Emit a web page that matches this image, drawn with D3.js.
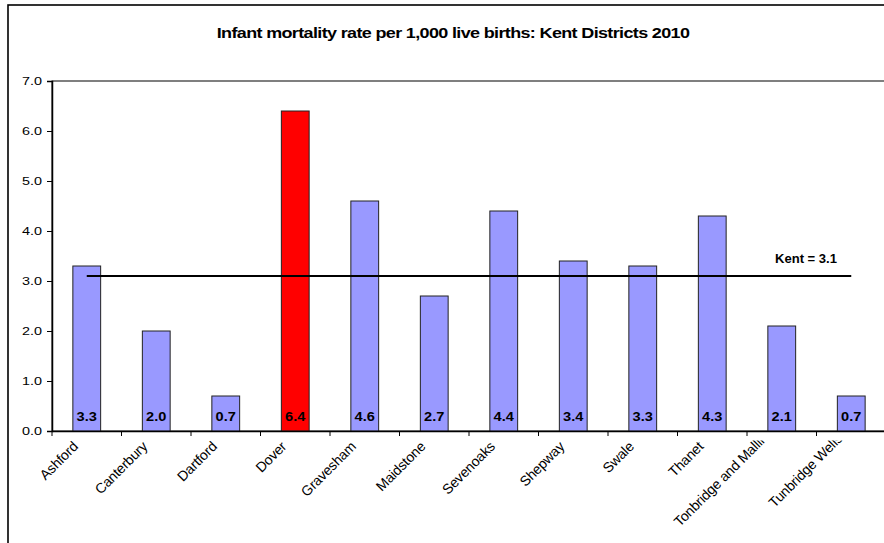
<!DOCTYPE html>
<html><head><meta charset="utf-8">
<script src="https://cdn.jsdelivr.net/npm/d3@7"></script>
<style>body{margin:0;background:#fff;} svg{display:block;font-family:"Liberation Sans",Arial,sans-serif;}</style>
</head><body><svg id="c" width="884" height="543"></svg>
<script>
const districts = ["Ashford","Canterbury","Dartford","Dover","Gravesham","Maidstone","Sevenoaks","Shepway","Swale","Thanet","Tonbridge and Malling","Tunbridge Wells"];
const rates = [3.3,2.0,0.7,6.4,4.6,2.7,4.4,3.4,3.3,4.3,2.1,0.7];
const highlight = ["Dover"];
const kentRate = 3.1;
const yTicks = [0,1,2,3,4,5,6,7];
const title = "Infant mortality rate per 1,000 live births: Kent Districts 2010";

const svg = d3.select("#c");
const L = 52, T = 81, R = 886, B = 431;
const x = d3.scaleBand().domain(districts).range([L, R]).paddingInner(0.6).paddingOuter(0.3);
const xb = d3.scaleBand().domain(districts).range([L, R]);
const y = d3.scaleLinear().domain([0, 7]).range([B, T]);

function stretch(sel, k) {
  sel.each(function() {
    const w = this.getComputedTextLength();
    d3.select(this).attr("textLength", w * k).attr("lengthAdjust", "spacingAndGlyphs");
  });
}

// outer border
svg.append("rect").attr("x", 8).attr("y", 5).attr("width", 900).attr("height", 600)
  .attr("fill", "#fff").attr("stroke", "#000").attr("stroke-width", 1.6);

const tt = svg.append("text").attr("text-anchor", "middle")
  .attr("font-size", 14).attr("font-weight", "bold").attr("letter-spacing", -0.5).text(title);
const tw = tt.node().getComputedTextLength();
tt.attr("transform", `translate(453,37.5) scale(${473 / tw},1)`);

// plot area border
svg.append("rect").attr("x", L).attr("y", T).attr("width", R - L).attr("height", B - T)
  .attr("fill", "none").attr("stroke", "#000").attr("stroke-width", 1);

// bars
svg.append("g").selectAll("rect").data(districts).join("rect")
  .attr("x", d => x(d)).attr("width", x.bandwidth())
  .attr("y", (d, i) => y(rates[i])).attr("height", (d, i) => y(0) - y(rates[i]))
  .attr("fill", d => highlight.includes(d) ? "#FF0000" : "#9999FF")
  .attr("stroke", "#222").attr("stroke-width", 1);

// value labels
svg.append("g").selectAll("text").data(districts).join("text")
  .attr("x", d => x(d) + x.bandwidth() / 2).attr("y", 421)
  .attr("text-anchor", "middle").attr("font-size", 13).attr("font-weight", "bold")
  .text((d, i) => rates[i].toFixed(1))
  .call(stretch, 1.12);

// y axis
const ya = svg.append("g").attr("transform", `translate(${L},0)`)
  .call(d3.axisLeft(y).tickValues(yTicks).tickFormat(d3.format(".1f")).tickSize(5).tickPadding(5));
ya.select(".domain").attr("stroke", "#000").attr("stroke-width", 1.5);
ya.selectAll(".tick line").attr("stroke", "#000");
ya.selectAll("text").attr("font-size", 11.5).attr("font-family", "Liberation Sans, Arial, sans-serif")
  .attr("fill", "#000").call(stretch, 1.25);

// x axis
const xa = svg.append("g").attr("transform", `translate(0,${B})`)
  .call(d3.axisBottom(xb).tickSize(0).tickFormat(""));
xa.select(".domain").attr("stroke", "#000").attr("stroke-width", 1.5);
xa.selectAll(".tick").remove();
const bounds = districts.map(d => xb(d)).concat([xb(districts[districts.length - 1]) + xb.bandwidth()]);
svg.append("g").selectAll("line").data(bounds).join("line")
  .attr("x1", d => d).attr("x2", d => d)
  .attr("y1", B).attr("y2", B + 5).attr("stroke", "#000");

// x labels (long ones get pushed up and cut at the axis label band)
svg.append("clipPath").attr("id", "lc").append("rect").attr("x", 0).attr("y", 440.5).attr("width", 884).attr("height", 200);
const lg = svg.append("g").attr("clip-path", "url(#lc)");
lg.selectAll("text").data(districts).join("text")
  .attr("text-anchor", "end").attr("font-size", 14).attr("letter-spacing", -0.2)
  .text(d => d)
  .each(function(d) {
    const w = this.getComputedTextLength();
    const up = w > 90 ? (w - 50) * 0.17 : 0;
    const cx = xb(d) + xb.bandwidth() / 2 - 8;
    const cy = 447.5 - up;
    d3.select(this).attr("transform", `translate(${cx},${cy}) rotate(-45)`);
  });

// Kent average line
const first = districts[0], last = districts[districts.length - 1];
svg.append("line")
  .attr("x1", x(first) + x.bandwidth() / 2).attr("x2", x(last) + x.bandwidth() / 2)
  .attr("y1", y(kentRate)).attr("y2", y(kentRate)).attr("stroke", "#000").attr("stroke-width", 2);
svg.append("text").attr("x", 775).attr("y", 263).attr("font-size", 13.5).attr("font-weight", "bold")
  .attr("textLength", 62).attr("lengthAdjust", "spacingAndGlyphs").text("Kent = " + kentRate.toFixed(1));
</script></body></html>
